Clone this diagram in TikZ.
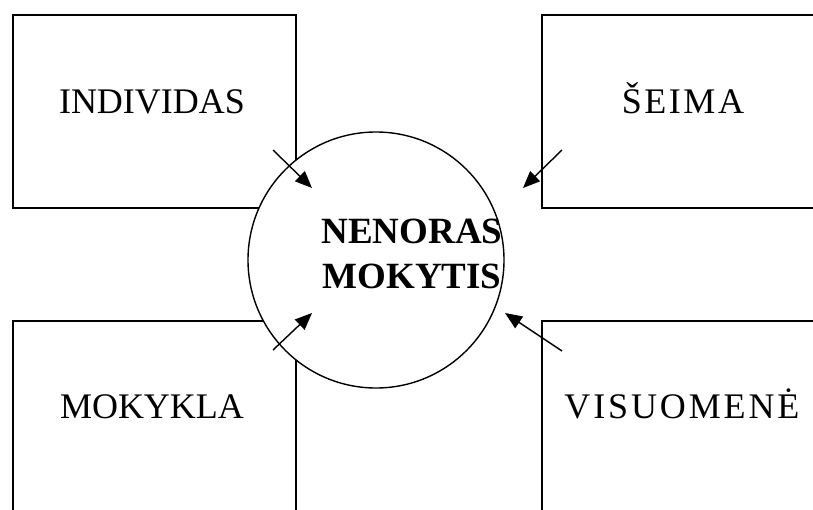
\documentclass[tikz,border=0pt]{standalone}
\usepackage{fontspec}
\setmainfont{Liberation Serif}
\usetikzlibrary{arrows.meta}
\tikzset{
  box/.style={draw=black, line width=2pt, fill=white, inner sep=0pt, anchor=north west},
  lbl/.style={anchor=base, inner sep=0pt, font=\fontsize{36}{40}\selectfont},
  bold/.style={anchor=base, inner sep=0pt, font=\fontsize{37}{42}\bfseries\selectfont},
  mid/.style={draw=black, line width=1.4pt, fill=white, circle, inner sep=0pt, minimum size=256pt},
  ptr/.style={draw=black, line width=1.4pt, -{Triangle[length=17pt,width=14pt]}}
}
\begin{document}
\begin{tikzpicture}[x=1pt,y=-1pt]
\useasboundingbox (0,0) rectangle (813,509);
\clip (0,0) rectangle (813,509);
\node[box, minimum width=283pt, minimum height=193pt] (tl) at (12,14) {};
\node[box, minimum width=300pt, minimum height=193pt] (tr) at (541,14) {};
\node[box, minimum width=283pt, minimum height=220pt] (bl) at (12,320) {};
\node[box, minimum width=300pt, minimum height=220pt] (br) at (541,320) {};
\node[lbl] (t1) at (152,113) {INDIVIDAS};
\node[lbl] (t2) at (683,113) {\addfontfeature{LetterSpace=7}ŠEIMA};
\node[lbl] (t3) at (152,418) {MOKYKLA};
\node[lbl] (t4) at (682,418) {\addfontfeature{LetterSpace=8}VISUOMENĖ};
\node[mid] (c) at (376,260) {};
\node[bold] (m1) at (412,243) {NENORAS};
\node[bold] (m2) at (412,288) {MOKYTIS};
\coordinate (a1s) at (273,150); \coordinate (a1e) at (312,188);
\coordinate (a2s) at (562,150); \coordinate (a2e) at (523,188);
\coordinate (a3s) at (273,350); \coordinate (a3e) at (312,313);
\coordinate (a4s) at (562,351); \coordinate (a4e) at (505,313);
\draw[ptr] (a1s) -- (a1e);
\draw[ptr] (a2s) -- (a2e);
\draw[ptr] (a3s) -- (a3e);
\draw[ptr] (a4s) -- (a4e);
\end{tikzpicture}
\end{document}
